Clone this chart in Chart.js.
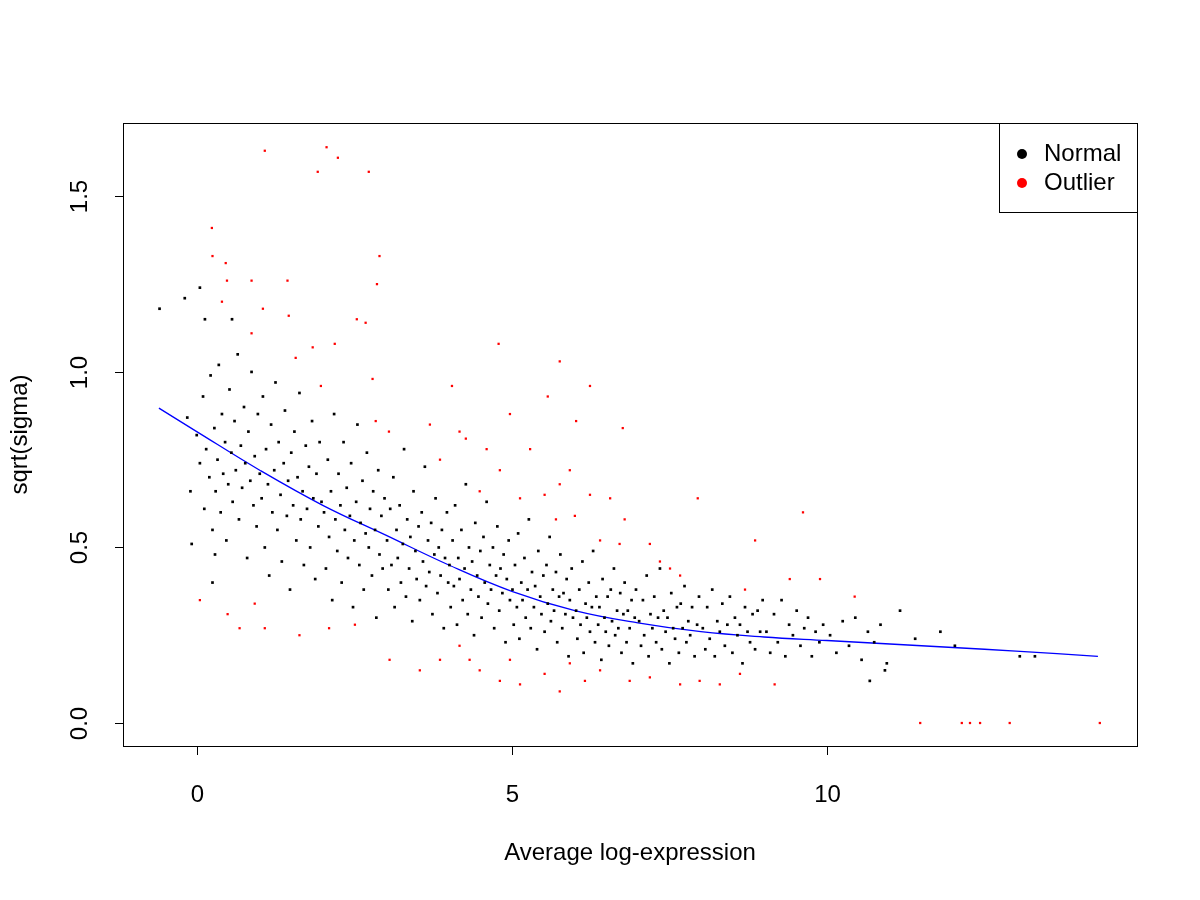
<!DOCTYPE html>
<html>
<head>
<meta charset="utf-8">
<script src="https://cdn.jsdelivr.net/npm/chart.js@4.4.0/dist/chart.umd.min.js"></script>
<style>
  html, body { margin: 0; padding: 0; background: #fff; }
  #wrap { width: 1200px; height: 900px; }
</style>
</head>
<body>
<div id="wrap"><canvas id="c" width="1200" height="900"></canvas></div>
<script>
// Values (a representative sample of the cloud)
const normalPoints = [
  [-0.59,1.18],[-0.19,1.21],[0.05,1.24],[0.13,1.15],[0.56,1.15],[-0.08,0.51],[0.25,0.4],[0.29,0.48],
  [11.16,0.32],[11.4,0.24],[11.8,0.26],[12.03,0.22],[13.06,0.19],[13.3,0.19],[10.68,0.12],[10.92,0.15],
  [-0.15,0.87],[-0.1,0.66],[0,0.82],[0.05,0.74],[0.1,0.93],[0.12,0.61],[0.15,0.78],[0.2,0.7],[0.22,0.99],[0.25,0.55],
  [0.28,0.84],[0.3,0.66],[0.33,0.75],[0.35,1.02],[0.38,0.6],[0.4,0.88],[0.42,0.71],[0.45,0.8],[0.47,0.52],[0.5,0.68],
  [0.52,0.95],[0.55,0.77],[0.57,0.63],[0.6,0.86],[0.62,0.72],[0.65,1.05],[0.67,0.58],[0.7,0.79],[0.72,0.67],[0.75,0.9],
  [0.77,0.74],[0.8,0.47],[0.82,0.83],[0.85,0.69],[0.87,1.0],[0.9,0.62],[0.92,0.76],[0.95,0.56],[0.97,0.88],[1.0,0.71],
  [1.03,0.64],[1.05,0.93],[1.08,0.5],[1.1,0.78],[1.13,0.68],[1.15,0.42],[1.18,0.85],[1.2,0.6],[1.23,0.72],[1.25,0.97],
  [1.28,0.55],[1.3,0.8],[1.33,0.65],[1.35,0.46],[1.38,0.74],[1.4,0.89],[1.43,0.59],[1.45,0.69],[1.48,0.38],[1.5,0.77],
  [1.53,0.62],[1.55,0.83],[1.58,0.52],[1.6,0.7],[1.63,0.94],[1.65,0.58],[1.68,0.66],[1.7,0.45],[1.73,0.79],[1.75,0.61],
  [1.78,0.73],[1.8,0.5],[1.83,0.86],[1.85,0.64],[1.88,0.41],[1.9,0.71],[1.93,0.56],[1.95,0.8],[1.98,0.63],
  [2.02,0.6],[2.05,0.44],[2.08,0.75],[2.1,0.53],[2.13,0.66],[2.15,0.35],[2.18,0.88],[2.2,0.58],[2.23,0.49],[2.25,0.71],
  [2.28,0.62],[2.3,0.4],[2.33,0.8],[2.35,0.55],[2.38,0.67],[2.4,0.47],[2.43,0.59],[2.45,0.74],[2.48,0.33],[2.5,0.52],
  [2.53,0.63],[2.55,0.85],[2.58,0.45],[2.6,0.57],[2.63,0.69],[2.65,0.38],[2.68,0.54],[2.7,0.77],[2.73,0.5],[2.75,0.61],
  [2.78,0.42],[2.8,0.66],[2.83,0.55],[2.85,0.3],[2.88,0.72],[2.9,0.48],[2.93,0.59],[2.95,0.44],[2.98,0.64],
  [3.02,0.52],[3.04,0.38],[3.07,0.61],[3.09,0.45],[3.12,0.7],[3.14,0.33],[3.17,0.55],[3.19,0.47],[3.22,0.62],[3.24,0.4],
  [3.27,0.51],[3.29,0.78],[3.32,0.36],[3.34,0.58],[3.37,0.44],[3.39,0.53],[3.42,0.29],[3.44,0.66],[3.47,0.49],[3.49,0.41],
  [3.52,0.56],[3.54,0.35],[3.57,0.6],[3.59,0.46],[3.62,0.73],[3.64,0.39],[3.67,0.52],[3.69,0.43],[3.72,0.57],[3.74,0.31],
  [3.77,0.48],[3.79,0.64],[3.82,0.37],[3.84,0.5],[3.87,0.42],[3.89,0.55],[3.92,0.27],[3.94,0.47],[3.97,0.6],[3.99,0.4],
  [4.01,0.45],[4.03,0.33],[4.06,0.52],[4.08,0.39],[4.1,0.62],[4.13,0.28],[4.15,0.47],[4.17,0.41],[4.2,0.55],[4.22,0.35],
  [4.25,0.44],[4.27,0.68],[4.3,0.31],[4.32,0.5],[4.35,0.38],[4.37,0.46],[4.4,0.25],[4.42,0.57],[4.45,0.42],[4.47,0.36],
  [4.5,0.49],[4.52,0.3],[4.55,0.53],[4.57,0.4],[4.6,0.63],[4.62,0.34],[4.65,0.45],[4.67,0.38],[4.7,0.5],[4.72,0.27],
  [4.75,0.42],[4.77,0.56],[4.8,0.32],[4.82,0.44],[4.85,0.37],[4.87,0.48],[4.9,0.23],[4.92,0.41],[4.95,0.52],[4.97,0.35],
  [5.01,0.38],[5.03,0.28],[5.05,0.45],[5.08,0.33],[5.1,0.54],[5.12,0.24],[5.15,0.4],[5.17,0.35],[5.2,0.47],[5.22,0.3],
  [5.25,0.38],[5.27,0.58],[5.3,0.27],[5.32,0.43],[5.35,0.33],[5.37,0.39],[5.4,0.21],[5.42,0.49],[5.45,0.36],[5.47,0.31],
  [5.5,0.42],[5.52,0.26],[5.55,0.45],[5.57,0.34],[5.6,0.53],[5.62,0.29],[5.65,0.38],[5.67,0.32],[5.7,0.43],[5.72,0.23],
  [5.75,0.36],[5.77,0.48],[5.8,0.27],[5.82,0.37],[5.85,0.31],[5.87,0.41],[5.9,0.19],[5.92,0.35],[5.95,0.44],[5.97,0.3],
  [6.02,0.32],[6.04,0.24],[6.07,0.38],[6.09,0.28],[6.12,0.46],[6.14,0.2],[6.17,0.34],[6.19,0.3],[6.22,0.4],[6.24,0.26],
  [6.27,0.33],[6.29,0.49],[6.32,0.23],[6.34,0.36],[6.37,0.28],[6.39,0.33],[6.42,0.18],[6.44,0.41],[6.47,0.3],[6.49,0.26],
  [6.52,0.36],[6.54,0.22],[6.57,0.38],[6.59,0.29],[6.62,0.44],[6.64,0.25],[6.67,0.32],[6.69,0.27],[6.72,0.37],[6.74,0.2],
  [6.77,0.31],[6.79,0.4],[6.82,0.23],[6.84,0.32],[6.87,0.27],[6.9,0.35],[6.92,0.17],[6.95,0.3],[6.97,0.38],
  [7.02,0.29],[7.05,0.22],[7.08,0.35],[7.1,0.25],[7.14,0.42],[7.17,0.19],[7.2,0.31],[7.23,0.27],[7.26,0.36],[7.29,0.23],
  [7.32,0.3],[7.35,0.44],[7.38,0.21],[7.41,0.32],[7.44,0.26],[7.47,0.3],[7.5,0.17],[7.53,0.37],[7.56,0.27],[7.59,0.24],
  [7.62,0.33],[7.65,0.2],[7.68,0.34],[7.71,0.27],[7.74,0.39],[7.77,0.23],[7.8,0.29],[7.83,0.25],[7.86,0.33],[7.9,0.19],
  [7.94,0.28],[7.97,0.36],
  [8.03,0.27],[8.07,0.21],[8.1,0.33],[8.14,0.24],[8.18,0.38],[8.22,0.19],[8.26,0.29],[8.3,0.26],[8.34,0.34],[8.38,0.22],
  [8.42,0.28],[8.46,0.36],[8.5,0.2],[8.54,0.3],[8.58,0.25],[8.62,0.28],[8.66,0.17],[8.7,0.33],[8.74,0.26],[8.78,0.23],
  [8.82,0.31],[8.86,0.21],[8.9,0.32],[8.94,0.26],[8.98,0.35],
  [9.04,0.26],[9.1,0.2],[9.16,0.31],[9.22,0.23],[9.28,0.35],[9.34,0.19],[9.4,0.28],[9.46,0.25],[9.52,0.32],[9.58,0.22],
  [9.64,0.27],[9.7,0.3],[9.76,0.19],[9.82,0.26],[9.88,0.23],[9.94,0.28],
  [10.05,0.25],[10.15,0.2],[10.25,0.29],[10.35,0.22],[10.45,0.3],[10.55,0.18],[10.65,0.26],[10.75,0.23],[10.85,0.28],[10.95,0.17]
];
const outlierPoints = [
  [1.08,1.63],[2.06,1.64],[2.24,1.61],[1.92,1.57],[2.73,1.57],[0.24,1.41],[0.25,1.33],[0.46,1.31],[0.48,1.26],[0.87,1.26],
  [1.44,1.26],[2.9,1.33],[2.86,1.25],[0.4,1.2],[1.05,1.18],[1.46,1.16],[2.54,1.15],[2.68,1.14],[0.87,1.11],[2.19,1.08],
  [1.84,1.07],[4.79,1.08],[5.76,1.03],[1.57,1.04],[1.97,0.96],[2.79,0.98],[4.05,0.96],[6.24,0.96],[5.57,0.93],[4.97,0.88],
  [6.02,0.86],[6.76,0.84],[3.7,0.85],[4.17,0.83],[2.84,0.86],[3.05,0.83],[4.27,0.81],[4.6,0.78],[3.86,0.75],[5.29,0.78],
  [5.92,0.72],[5.76,0.68],[4.81,0.72],[4.49,0.66],[5.13,0.64],[5.52,0.65],[6.24,0.65],[6.56,0.64],[6.0,0.59],[5.7,0.58],
  [6.79,0.58],[6.4,0.52],[6.71,0.51],[7.35,0.46],[7.51,0.44],[7.67,0.42],[7.95,0.64],[9.62,0.6],[8.7,0.38],[9.41,0.41],
  [9.89,0.41],[10.44,0.36],[8.86,0.52],[7.19,0.51],
  [0.68,0.27],[1.08,0.27],[1.63,0.25],[2.1,0.27],[2.51,0.28],[0.49,0.31],[0.92,0.34],[0.05,0.35],[3.06,0.18],[3.54,0.15],
  [3.86,0.18],[4.33,0.18],[4.49,0.15],[4.81,0.12],[5.13,0.11],[5.52,0.14],[5.76,0.09],[6.16,0.12],[6.4,0.15],[6.87,0.12],
  [7.19,0.13],[7.67,0.11],[7.98,0.12],[8.3,0.11],[8.62,0.14],[9.17,0.11],[4.17,0.22],[4.97,0.18],[5.92,0.17],
  [11.48,0],[12.14,0],[12.27,0],[12.43,0],[12.9,0],[14.33,0]
];
const trendX = [-0.6, 0, 1, 2, 3, 4, 5, 6, 7, 8, 9, 10, 11, 12, 13, 14.3];
const trendY = [0.897, 0.83, 0.72, 0.62, 0.535, 0.45, 0.375, 0.32, 0.285, 0.26, 0.245, 0.235, 0.225, 0.215, 0.205, 0.19];
const xTicks = [0, 5, 10];
const yTicks = [0, 0.5, 1.0, 1.5];
const legendLabels = ['Normal', 'Outlier'];
const legendColors = ['#000000', '#ff0000'];

const FONT = '24px "Liberation Sans", Arial, sans-serif';

const rFrame = {
  id: 'rFrame',
  afterDraw(chart) {
    const { ctx, chartArea: a, scales } = chart;
    const xs = scales.x, ys = scales.y;
    ctx.save();
    ctx.strokeStyle = '#000';
    ctx.lineWidth = 1;
    ctx.strokeRect(a.left + 0.5, a.top + 0.5, a.right - a.left, a.bottom - a.top);
    ctx.fillStyle = '#000';
    ctx.font = FONT;
    // x axis
    const xp = xTicks.map(v => Math.round(xs.getPixelForValue(v)) + 0.5);
    ctx.beginPath();
    ctx.moveTo(xp[0], a.bottom + 0.5); ctx.lineTo(xp[xp.length - 1], a.bottom + 0.5);
    xp.forEach(p => { ctx.moveTo(p, a.bottom); ctx.lineTo(p, a.bottom + 9); });
    ctx.stroke();
    ctx.textAlign = 'center'; ctx.textBaseline = 'middle';
    xTicks.forEach((v, i) => ctx.fillText(String(v), xp[i], a.bottom + 49));
    ctx.fillText('Average log-expression', (a.left + a.right) / 2, a.bottom + 107);
    // y axis
    const yp = yTicks.map(v => Math.round(ys.getPixelForValue(v)) + 0.5);
    ctx.beginPath();
    ctx.moveTo(a.left + 0.5, yp[0]); ctx.lineTo(a.left + 0.5, yp[yp.length - 1]);
    yp.forEach(p => { ctx.moveTo(a.left, p); ctx.lineTo(a.left - 8, p); });
    ctx.stroke();
    yTicks.forEach((v, i) => {
      ctx.save(); ctx.translate(a.left - 43, yp[i]); ctx.rotate(-Math.PI / 2);
      ctx.fillText(v.toFixed(1), 0, 0); ctx.restore();
    });
    ctx.save(); ctx.translate(20, (a.top + a.bottom) / 2); ctx.rotate(-Math.PI / 2);
    ctx.fillText('sqrt(sigma)', 0, 0); ctx.restore();
    // legend
    const lx = a.right - 138, ly = a.top;
    ctx.fillStyle = '#fff';
    ctx.fillRect(lx, ly, 138, 89);
    ctx.strokeRect(lx + 0.5, ly + 0.5, 138, 89);
    ctx.textAlign = 'left';
    legendLabels.forEach((t, i) => {
      const cy = ly + 31 + i * 29;
      ctx.fillStyle = legendColors[i];
      ctx.beginPath(); ctx.arc(lx + 23, cy, 5, 0, Math.PI * 2); ctx.fill();
      ctx.fillStyle = '#000';
      ctx.fillText(t, lx + 45, cy);
    });
    ctx.restore();
  }
};

new Chart(document.getElementById('c'), {
  type: 'scatter',
  data: {
    datasets: [
      { label: 'Normal', data: normalPoints.map(p => ({ x: p[0], y: p[1] })),
        backgroundColor: '#000', borderWidth: 0, pointRadius: 1.9, pointStyle: 'rect' },
      { label: 'Outlier', data: outlierPoints.map(p => ({ x: p[0], y: p[1] })),
        backgroundColor: '#ff0000', borderWidth: 0, pointRadius: 1.6, pointStyle: 'rect' },
      { type: 'line', label: 'trend', data: trendX.map((x, i) => ({ x, y: trendY[i] })),
        borderColor: '#0000ff', borderWidth: 1.3, pointRadius: 0, tension: 0.4, fill: false }
    ]
  },
  options: {
    responsive: false,
    animation: false,
    layout: { padding: { top: 123, right: 63, left: 0, bottom: 0 } },
    plugins: { legend: { display: false }, tooltip: { enabled: false } },
    scales: {
      x: { type: 'linear', min: -1.17, max: 14.92, grid: { display: false }, border: { display: false },
           ticks: { display: false }, afterFit(s) { s.height = 154; } },
      y: { type: 'linear', min: -0.0655, max: 1.709, grid: { display: false }, border: { display: false },
           ticks: { display: false }, afterFit(s) { s.width = 123; } }
    }
  },
  plugins: [rFrame]
});
</script>
</body>
</html>
